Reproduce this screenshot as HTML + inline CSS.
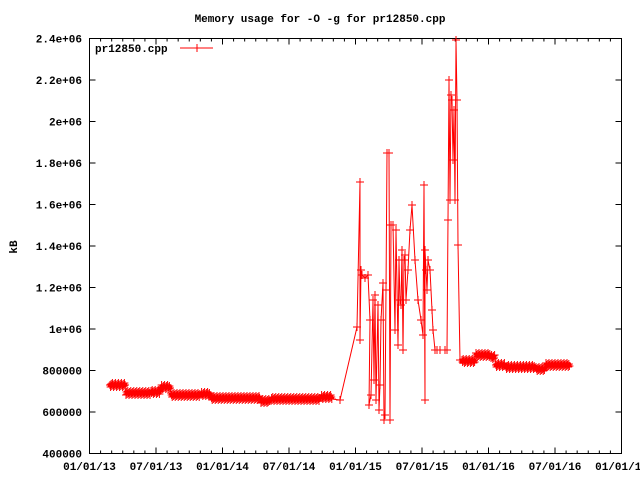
<!DOCTYPE html>
<html><head><meta charset="utf-8"><style>
body{margin:0;background:#fff}
svg{display:block;font-family:"Liberation Mono",monospace;font-weight:bold;font-size:11px}
</style></head><body>
<svg id="s" width="640" height="480" xmlns="http://www.w3.org/2000/svg">
<defs><marker id="c" markerWidth="10" markerHeight="10" refX="5" refY="5" markerUnits="userSpaceOnUse"><path d="M1 5H9M5 1V9" stroke="#f00" stroke-width="1" fill="none"/></marker></defs>
<text x="320" y="22" text-anchor="middle">Memory usage for -O -g for pr12850.cpp</text>
<text transform="translate(17,247) rotate(-90)" text-anchor="middle">kB</text>
<g id="ax" stroke="#000" fill="none"><rect x="89.5" y="38.5" width="532" height="415"/></g>
<g id="lab"></g>
<text x="95" y="52">pr12850.cpp</text>
<path d="M180 48H213M197 44V52" stroke="#f00"/>
<polyline id="pl" fill="none" stroke="#f00" stroke-width="1" marker-mid="url(#c)" marker-start="url(#c)" marker-end="url(#c)"/>
</svg>
<script>
var ns="http://www.w3.org/2000/svg",ax=document.getElementById('ax'),lab=document.getElementById('lab');
function el(p,t,a,txt){var e=document.createElementNS(ns,t);for(var k in a)e.setAttribute(k,a[k]);if(txt)e.textContent=txt;p.appendChild(e);}
var yl=["400000","600000","800000","1e+06","1.2e+06","1.4e+06","1.6e+06","1.8e+06","2e+06","2.2e+06","2.4e+06"];
for(var i=0;i<11;i++){var y=453.5-i*41.5;el(ax,'path',{d:'M89.5 '+y+'h6M621.5 '+y+'h-6'});el(lab,'text',{x:82,y:y+4,'text-anchor':'end'},yl[i]);}
var xl=["01/01/13","07/01/13","01/01/14","07/01/14","01/01/15","07/01/15","01/01/16","07/01/16","01/01/17"];
for(var m=0;m<=48;m++){var x=89.5+m*532/48;var L=(m%6==0)?6:3;el(ax,'path',{d:'M'+x+' 453.5v-'+L+'M'+x+' 38.5v'+L});}
for(var i=0;i<9;i++){el(lab,'text',{x:89.5+i*66.5,y:470,'text-anchor':'middle'},xl[i]);}
var pts=[],k=0;
function band(x0,x1,y){for(var x=x0;x<=x1;x+=0.6){k++;pts.push([x.toFixed(1),y+((k*7)%5-2)]);}}
band(110,125,385);band(126,150,393);band(151,160,392);band(161,170,387);band(171,200,395);band(201,210,394);band(211,260,398);band(261,270,401);band(271,320,399);band(321,332,397);pts.push([340,400]);
var sp=[[357,327],[360,182],[360,340],[361,270],[362,275],[365,278],[368,275],[370,320],[369,405],[371,395],[373,300],[374,380],[375,295],[376,400],[378,305],[379,410],[380,385],[381,320],[383,283],[384,420],[385,415],[386,290],[387,153],[389,153],[390,420],[391,225],[393,225],[395,330],[396,230],[398,345],[399,260],[400,300],[401,305],[402,250],[403,350],[404,260],[405,255],[406,300],[408,270],[410,230],[412,205],[415,260],[418,300],[421,320],[423,335],[424,185],[425,400],[425,250],[426,270],[427,290],[428,260],[430,270],[432,310],[433,330],[435,350],[437,350],[440,350],[445,350],[447,350],[448,220],[449,80],[450,200],[451,95],[452,100],[453,160],[454,110],[455,200],[456,40],[457,100],[458,245],[460,360]];
pts=pts.concat(sp);
band(462,475,361);band(476,490,355);band(491,495,357);band(496,505,365);band(506,535,367);band(536,545,369);band(546,570,365);
document.getElementById('pl').setAttribute('points',pts.map(function(p){return p[0]+','+p[1]}).join(' '));
</script>
</body></html>
